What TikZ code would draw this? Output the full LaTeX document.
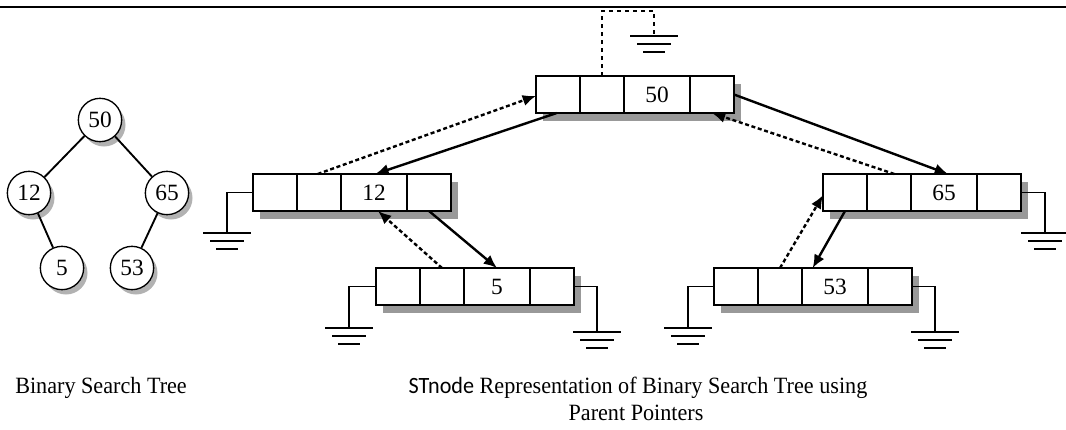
\documentclass[tikz,border=0pt]{standalone}
\usepackage{fontspec}
\setmainfont{Liberation Serif}
\newfontfamily\stsans{Carlito}
\usetikzlibrary{arrows.meta,calc}
\definecolor{shadowc}{gray}{0.6}
\tikzset{
  cell/.style={draw, line width=1pt, fill=white, minimum height=27.75pt, inner sep=0pt, outer sep=0pt, anchor=north west},
  tcirc/.style={circle, draw, line width=1pt, fill=white, minimum size=32.5pt, inner sep=0pt},
  tedge/.style={line width=1.4pt},
  solidarrow/.style={line width=1.8pt, -{Latex[length=10pt,width=8.5pt]}},
  dasharrow/.style={line width=1.8pt, dash pattern=on 3pt off 2pt, -{Latex[length=10pt,width=8.5pt]}},
  wire/.style={line width=0.9pt},
  gnd/.pic={\draw[line width=1.1pt] (-24,0) -- (24,0) (-17,8) -- (17,8) (-11,16) -- (11,16);},
  txt/.style={font=\fontsize{17.5}{21}\selectfont, inner sep=0pt}
}
\newcommand\rec[4]{%
  \fill[shadowc] (#2+7,#3+8) rectangle ++(198,37);
  \node[cell, minimum width=33pt] (#1-1) at (#2,#3) {};
  \node[cell, minimum width=33pt] (#1-2) at (#1-1.north east) {};
  \node[cell, minimum width=49.5pt, txt] (#1-3) at (#1-2.north east) {#4};
  \node[cell, minimum width=33pt] (#1-4) at (#1-3.north east) {};
}
\begin{document}
\begin{tikzpicture}[x=0.75pt, y=-0.75pt]
\useasboundingbox (0,0) rectangle (1066,429);
% top rule
\draw[line width=1.6pt] (0,7) -- (1066,7);

% ---- binary search tree ----
\foreach \p in {(100,120),(29,193),(167,193),(62,268),(132,268)}
  \fill[shadowc!75] \p ++(4,5) circle (21.5);
\node[tcirc, txt] (c50) at (100,120) {50};
\node[tcirc, txt] (c12) at (29,193) {12};
\node[tcirc, txt] (c65) at (167,193) {65};
\node[tcirc, txt] (c5)  at (62,268) {5};
\node[tcirc, txt] (c53) at (132,268) {53};
\draw[tedge] (c50) -- (c12);
\draw[tedge] (c50) -- (c65);
\draw[tedge] (c12) -- (c5);
\draw[tedge] (c65) -- (c53);

% ---- records ----
\rec{r50}{536}{76}{50}
\rec{r12}{253}{174}{12}
\rec{r5}{376}{268}{5}
\rec{r65}{823}{174}{65}
\rec{r53}{714}{268}{53}

% ground coordinates
\coordinate (t1) at (602,11);
\coordinate (t2) at (654,11);
\coordinate (g50) at (654,36);
\coordinate (g12) at (227,233);
\coordinate (g5l) at (349,328);
\coordinate (g5r) at (597,332);
\coordinate (g65) at (1045,233);
\coordinate (g53l) at (688,328);
\coordinate (g53r) at (935,332);

\draw[wire, dashed] (r50-2.north) -- (t1) -- (t2) -- (g50);
\draw[wire] (r12-1.west) -| (g12);
\draw[wire] (r5-1.west) -| (g5l);
\draw[wire] (r5-4.east) -| (g5r);
\draw[wire] (r65-4.east) -| (g65);
\draw[wire] (r53-1.west) -| (g53l);
\draw[wire] (r53-4.east) -| (g53r);
\foreach \g in {g50,g12,g5l,g5r,g65,g53l,g53r}
  \pic at (\g) {gnd};

% ---- pointers ----
\draw[solidarrow] ([xshift=-1pt]r50-1.south) -- ([xshift=1pt]r12-3.north);
\draw[dasharrow] ([xshift=-1pt]r12-2.north) -- ([yshift=-1pt]r50-1.west);
\draw[solidarrow] (r50-4.east) -- ([xshift=3pt]r65-3.north);
\draw[dasharrow] ([xshift=4pt]r65-2.north) -- (r50-4.south);
\draw[solidarrow] (r12-4.south) -- (r5-3.north);
\draw[dasharrow] (r5-2.north) -- ([xshift=3pt]r12-3.south);
\draw[solidarrow] (r65-1.south) -- ([xshift=8pt]r53-3.north west);
\draw[dasharrow] (r53-2.north) -- ([yshift=-2pt]r65-1.west);

% ---- captions ----
\node[txt, anchor=base west] (cap1) at (15,393) {\scalebox{0.95}[1]{Binary Search Tree}};
\node[txt, anchor=base] (cap2) at (638,393) {\scalebox{0.95}[1]{{\stsans STnode} Representation of Binary Search Tree using}};
\node[txt, anchor=base] (cap3) at (636,420) {\scalebox{0.95}[1]{Parent Pointers}};
\end{tikzpicture}
\end{document}
